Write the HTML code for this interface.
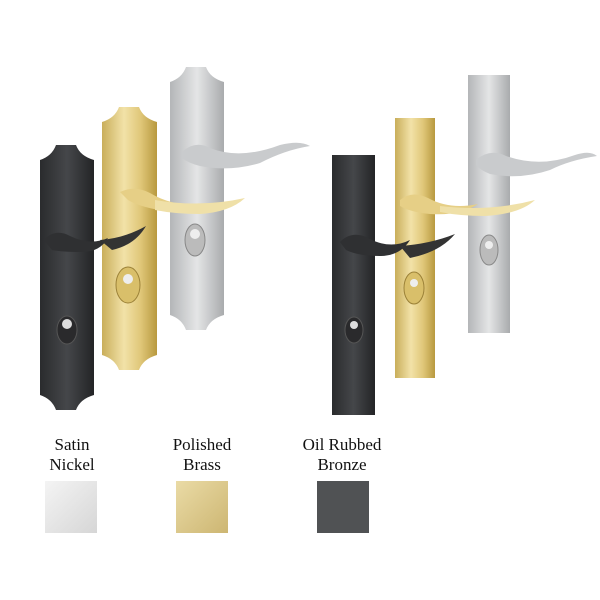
<!DOCTYPE html>
<html><head><style>
body{margin:0;background:#fff;width:600px;height:600px;overflow:hidden}
svg{display:block}
text{font-family:"Liberation Serif",serif;font-size:17px;fill:#111}
</style></head><body>
<svg width="600" height="600" viewBox="0 0 600 600">
<defs>
<linearGradient id="blk" x1="0" x2="1"><stop offset="0" stop-color="#2a2b2d"/><stop offset=".5" stop-color="#45474a"/><stop offset="1" stop-color="#232426"/></linearGradient>
<linearGradient id="brs" x1="0" x2="1"><stop offset="0" stop-color="#c9ae5a"/><stop offset=".4" stop-color="#f2e2a8"/><stop offset=".7" stop-color="#e0c779"/><stop offset="1" stop-color="#b8993f"/></linearGradient>
<linearGradient id="slv" x1="0" x2="1"><stop offset="0" stop-color="#b4b6b8"/><stop offset=".5" stop-color="#e4e5e6"/><stop offset="1" stop-color="#a9abad"/></linearGradient>
<linearGradient id="swS" x1="0" x2="1" y1="0" y2="1"><stop offset="0" stop-color="#f4f4f4"/><stop offset="1" stop-color="#d6d6d6"/></linearGradient>
<linearGradient id="swB" x1="0" x2="1" y1="0" y2="1"><stop offset="0" stop-color="#eadba6"/><stop offset="1" stop-color="#cdb672"/></linearGradient>
</defs>
<!-- left set: scalloped plates -->
<path d="M40,160 Q52,156 56,145 L76,145 Q80,156 94,160 L94,395 Q80,399 76,410 L56,410 Q52,399 40,395 Z" fill="url(#blk)"/>
<path d="M102,122 Q115,118 119,107 L139,107 Q143,118 157,122 L157,355 Q143,359 139,370 L119,370 Q115,359 102,355 Z" fill="url(#brs)"/>
<path d="M170,82 Q182,78 186,67 L206,67 Q210,78 224,82 L224,315 Q210,319 206,330 L186,330 Q182,319 170,315 Z" fill="url(#slv)"/>
<!-- levers left -->
<path d="M120,192 Q135,185 150,193 Q170,205 195,205 Q180,212 160,210 Q140,207 128,200 Z" fill="#e6cf86"/>
<path d="M155,200 Q200,208 245,198 Q230,212 200,214 Q175,214 155,210 Z" fill="#efe0a8"/>
<path d="M44,240 Q55,228 70,236 Q90,246 108,238 Q100,252 82,252 Q62,252 52,250 Z" fill="#2f3032"/>
<path d="M100,240 Q125,238 146,226 Q135,245 112,250 Z" fill="#333"/>
<path d="M182,152 Q195,140 210,148 Q240,160 280,145 Q300,140 310,146 Q285,150 260,163 Q230,172 200,166 Q188,163 182,158 Z" fill="#c9cbcd"/>
<!-- escutcheons -->
<ellipse cx="67" cy="330" rx="10" ry="14" fill="#2a2a2c" stroke="#555"/><circle cx="67" cy="324" r="5" fill="#ddd"/>
<ellipse cx="128" cy="285" rx="12" ry="18" fill="#d9bf6a" stroke="#9c8238"/><circle cx="128" cy="279" r="5" fill="#eee"/>
<ellipse cx="195" cy="240" rx="10" ry="16" fill="#bbb" stroke="#888"/><circle cx="195" cy="234" r="5" fill="#eee"/>
<!-- right set: rectangular plates -->
<rect x="332" y="155" width="43" height="260" fill="url(#blk)"/>
<rect x="395" y="118" width="40" height="260" fill="url(#brs)"/>
<rect x="468" y="75" width="42" height="258" fill="url(#slv)"/>
<path d="M400,200 Q412,190 428,198 Q450,210 478,204 Q460,216 430,214 Q410,212 400,206 Z" fill="#e6cf86"/>
<path d="M440,206 Q490,212 535,200 Q520,214 485,216 Q460,216 440,212 Z" fill="#efe0a8"/>
<path d="M340,242 Q352,230 368,238 Q390,250 410,240 Q400,256 380,256 Q358,256 346,250 Z" fill="#2f3032"/>
<path d="M400,246 Q430,244 455,234 Q440,252 410,258 Z" fill="#333"/>
<path d="M476,160 Q490,148 506,156 Q540,168 575,155 Q590,150 597,156 Q570,160 550,170 Q520,180 490,174 Q480,170 476,165 Z" fill="#c9cbcd"/>
<ellipse cx="354" cy="330" rx="9" ry="13" fill="#2a2a2c" stroke="#555"/><circle cx="354" cy="325" r="4" fill="#ddd"/>
<ellipse cx="414" cy="288" rx="10" ry="16" fill="#d9bf6a" stroke="#9c8238"/><circle cx="414" cy="283" r="4" fill="#eee"/>
<ellipse cx="489" cy="250" rx="9" ry="15" fill="#bbb" stroke="#888"/><circle cx="489" cy="245" r="4" fill="#eee"/>
<!-- labels -->
<text x="72" y="450" text-anchor="middle">Satin</text>
<text x="72" y="470" text-anchor="middle">Nickel</text>
<text x="202" y="450" text-anchor="middle">Polished</text>
<text x="202" y="470" text-anchor="middle">Brass</text>
<text x="342" y="450" text-anchor="middle">Oil Rubbed</text>
<text x="342" y="470" text-anchor="middle">Bronze</text>
<rect x="45" y="481" width="52" height="52" fill="url(#swS)"/>
<rect x="176" y="481" width="52" height="52" fill="url(#swB)"/>
<rect x="317" y="481" width="52" height="52" fill="#505254"/>
</svg>
</body></html>
